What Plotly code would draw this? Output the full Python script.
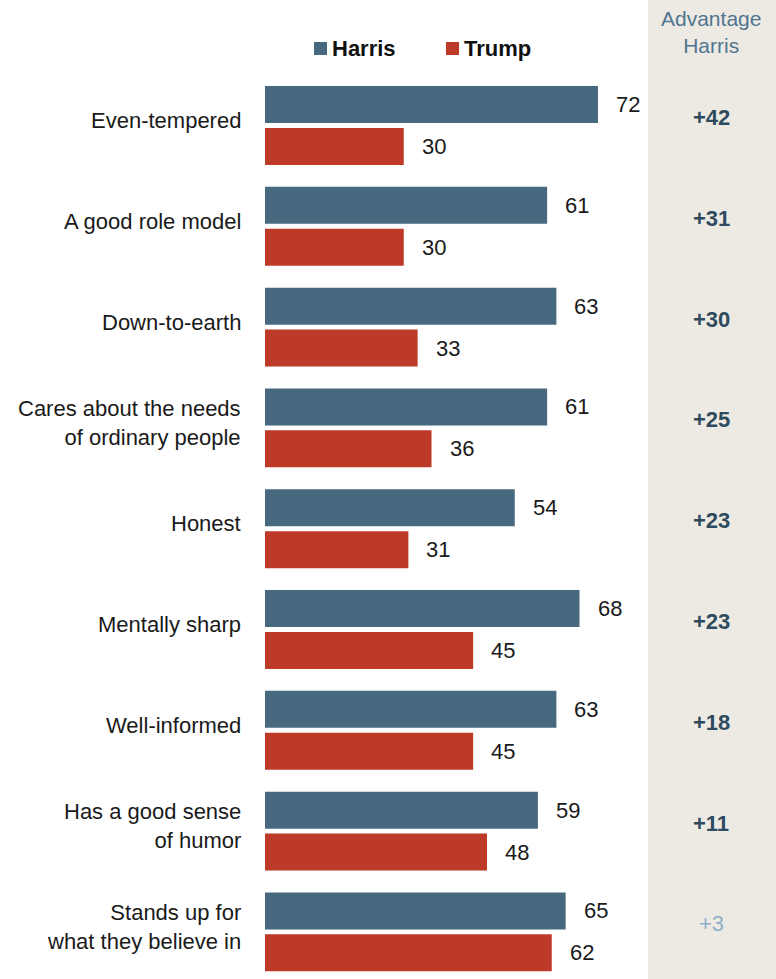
import plotly.graph_objects as go

categories = [
    "Even-tempered",
    "A good role model",
    "Down-to-earth",
    "Cares about the needs<br>of ordinary people",
    "Honest",
    "Mentally sharp",
    "Well-informed",
    "Has a good sense<br>of humor",
    "Stands up for<br>what they believe in",
]
harris = [72, 61, 63, 61, 54, 68, 63, 59, 65]
trump = [30, 30, 33, 36, 31, 45, 45, 48, 62]

HARRIS_C = "#46697F"
TRUMP_C = "#BE3A28"
FONT = "Liberation Sans"

W, H = 776, 979
L, R = 265, 128
PW = W - L - R

def px_x(px):
    return (px - L) / PW

def px_y(py):
    return 1 - py / H

rows = list(range(len(categories)))
off = 0.208
fig = go.Figure()
fig.add_trace(go.Bar(
    x=harris, y=[i - off for i in rows], orientation="h", width=0.367,
    marker=dict(color=HARRIS_C, line=dict(width=0)), name="Harris",
    showlegend=False, hoverinfo="skip"))
fig.add_trace(go.Bar(
    x=trump, y=[i + off for i in rows], orientation="h", width=0.367,
    marker=dict(color=TRUMP_C, line=dict(width=0)), name="Trump",
    showlegend=False, hoverinfo="skip"))

ann = []
shapes = []
for i, (c, h, t) in enumerate(zip(categories, harris, trump)):
    ann.append(dict(x=0, xref="paper", y=i, yref="y", text=c, xanchor="right",
                    align="right", xshift=-22, yshift=5, showarrow=False,
                    font=dict(family=FONT, size=22, color="#1a1a1a")))
    ann.append(dict(x=h, y=i - off, text=str(h), xanchor="left", xshift=16,
                    showarrow=False, font=dict(family=FONT, size=22, color="#1a1a1a")))
    ann.append(dict(x=t, y=i + off, text=str(t), xanchor="left", xshift=16,
                    showarrow=False, font=dict(family=FONT, size=22, color="#1a1a1a")))
    d = h - t
    sig = d >= 5
    ann.append(dict(x=px_x(711), xref="paper", y=i, yref="y",
                    text=(f"<b>+{d}</b>" if sig else f"+{d}"), xanchor="center",
                    yshift=8, showarrow=False,
                    font=dict(family=FONT, size=22,
                              color="#2E4A5E" if sig else "#8FB0C8")))

# advantage column
shapes.append(dict(type="rect", xref="paper", yref="paper", x0=px_x(648), x1=px_x(780),
                   y0=0, y1=1, fillcolor="#EDEAE3", line=dict(width=0), layer="below"))
ann.append(dict(x=px_x(711), xref="paper", y=px_y(32), yref="paper",
                text="Advantage<br>Harris", showarrow=False, xanchor="center", yanchor="middle",
                font=dict(family=FONT, size=21, color="#4F7590")))

# legend
for x0, name, col in [(314, "Harris", HARRIS_C), (446, "Trump", TRUMP_C)]:
    shapes.append(dict(type="rect", xref="paper", yref="paper",
                       x0=px_x(x0), x1=px_x(x0 + 13), y0=px_y(55), y1=px_y(42),
                       fillcolor=col, line=dict(width=0)))
    ann.append(dict(x=px_x(x0 + 16), xref="paper", y=px_y(48), yref="paper",
                    text=f"<b>{name}</b>", xanchor="left", yanchor="middle",
                    showarrow=False, font=dict(family=FONT, size=22, color="#111")))

fig.update_layout(
    width=W, height=H,
    margin=dict(l=L, r=R, t=0, b=0),
    plot_bgcolor="white", paper_bgcolor="white",
    barmode="overlay",
    xaxis=dict(range=[0, PW / 4.625], visible=False, fixedrange=True),
    yaxis=dict(range=[(H - 125.5) / 100.8, -125.5 / 100.8], visible=False, fixedrange=True),
    annotations=ann, shapes=shapes,
)
fig.write_html("out.html", config={"displayModeBar": False},
               post_script="document.body.style.margin='0';document.body.style.overflow='hidden';")
